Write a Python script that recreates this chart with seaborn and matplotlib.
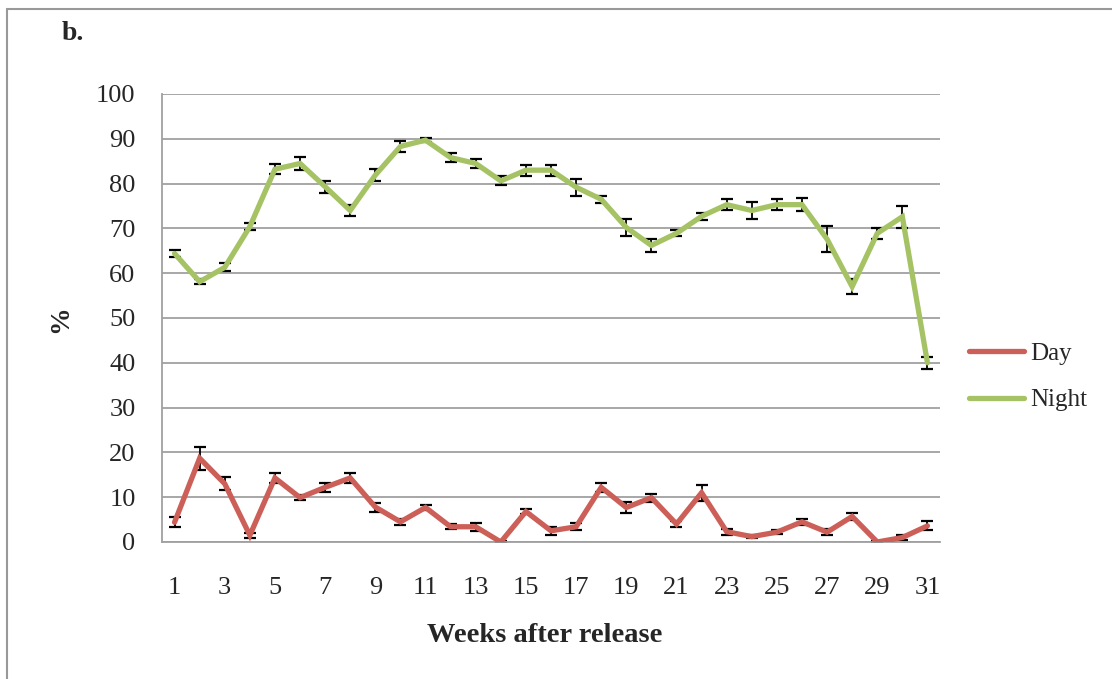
import matplotlib
matplotlib.use("Agg")
import matplotlib.pyplot as plt
import seaborn as sns
import pandas as pd
import numpy as np
from matplotlib.lines import Line2D

weeks = list(range(1, 32))
day = [4.4, 18.7, 13.0, 1.5, 14.3, 9.9, 12.2, 14.3, 7.8, 4.5,
       7.7, 3.4, 3.4, 0.0, 6.8, 2.5, 3.4, 12.2, 7.7, 9.9,
       4.0, 11.0, 2.3, 1.2, 2.2, 4.5, 2.2, 5.7, 0.0, 1.0, 3.6]
day_err = [1.1, 2.6, 1.4, 0.6, 1.2, 0.5, 1.0, 1.2, 1.0, 0.7,
           0.6, 0.6, 0.9, 0.3, 0.5, 0.9, 0.8, 1.0, 1.2, 0.9,
           0.6, 1.8, 0.7, 0.4, 0.5, 0.7, 0.6, 0.7, 0.3, 0.5, 1.0]
night = [64.4, 58.1, 61.3, 70.4, 83.2, 84.5, 79.3, 74.0, 81.9, 88.3,
         89.7, 85.8, 84.5, 80.6, 83.0, 83.0, 79.2, 76.5, 70.2, 66.2,
         68.9, 72.7, 75.3, 74.0, 75.3, 75.3, 67.6, 57.0, 68.9, 72.6, 40.0]
night_err = [0.8, 0.6, 0.9, 0.75, 1.1, 1.4, 1.3, 1.3, 1.4, 1.2,
             0.5, 1.0, 1.0, 1.0, 1.2, 1.2, 1.9, 0.8, 1.9, 1.4,
             0.7, 0.8, 1.2, 2.0, 1.2, 1.5, 2.9, 1.6, 1.2, 2.5, 1.3]
series = ["Day", "Night"]
colors = {"Day": "#CC5F57", "Night": "#A5C364"}

df = pd.DataFrame({
    "week": weeks * 2,
    "value": day + night,
    "err": day_err + night_err,
    "series": ["Day"] * 31 + ["Night"] * 31,
})

sns.set_style("white")
plt.rcParams['font.family'] = ['Liberation Serif', 'DejaVu Serif']

fig = plt.figure(figsize=(11.12, 6.79), dpi=100)
ax = fig.add_axes([162/1112, 1-542/679, (940-162)/1112, (542-94)/679])

# error bars beneath lines
for s in series:
    sub = df[df.series == s]
    ax.errorbar(sub.week, sub.value, yerr=sub.err, fmt="none", ecolor="black",
                elinewidth=1.3, capsize=4.5, capthick=1.6, zorder=2)

sns.lineplot(data=df, x="week", y="value", hue="series", palette=colors,
             linewidth=3.8, ax=ax, legend=False, zorder=3,
             solid_capstyle="round", solid_joinstyle="miter")

ax.set_xlim(0.5, 31.5)
ax.set_ylim(0, 100)
ax.set_yticks(range(0, 101, 10))
ax.set_yticklabels([str(v) for v in range(0, 101, 10)], fontsize=19)
ax.yaxis.grid(True, color="#A0A0A0", linewidth=1.3)
ax.set_axisbelow(True)

ax.set_xticks(np.arange(0.5, 32, 1.0))
ax.set_xticklabels([])
ax.set_xticks(weeks[::2], minor=True)
ax.set_xticklabels([str(w) for w in weeks[::2]], minor=True, fontsize=19)
ax.tick_params(axis="x", which="major", length=7, width=1.3, color="#A0A0A0", direction="out")
ax.tick_params(axis="x", which="minor", length=0, pad=25)
ax.tick_params(axis="y", which="major", length=7, width=1.3, color="#A0A0A0", direction="out", pad=12)

for sp in ["top", "right"]:
    ax.spines[sp].set_visible(False)
for sp in ["left", "bottom"]:
    ax.spines[sp].set_color("#A0A0A0")
    ax.spines[sp].set_linewidth(1.3)

ax.set_xlabel("")
ax.set_ylabel("")
fig.text(545/1112, 1-636/679, "Weeks after release", fontsize=20.5, fontweight="bold",
         ha="center", va="center")
fig.text(61/1112, 1-319/679, "%", fontsize=20, fontweight="bold", rotation=90,
         ha="center", va="center")
fig.text(62/1112, 1-33/679, "b.", fontsize=20, fontweight="bold", ha="left", va="center")

handles = [Line2D([0], [0], color=colors[s], linewidth=3.8, solid_capstyle="round") for s in series]
fig.legend(handles, series, loc="center left", bbox_to_anchor=(946/1112, 1-377/679),
           frameon=False, fontsize=18, handlelength=2.2, labelspacing=0.95, handletextpad=0.25)

# outer frame lines (top and left)
fig.add_artist(Line2D([7/1112, 1.0], [1-9/679, 1-9/679], color="#999999", linewidth=1.5,
                      transform=fig.transFigure))
fig.add_artist(Line2D([7/1112, 7/1112], [0, 1-9/679], color="#999999", linewidth=1.5,
                      transform=fig.transFigure))

fig.savefig("out.png", dpi=100)
